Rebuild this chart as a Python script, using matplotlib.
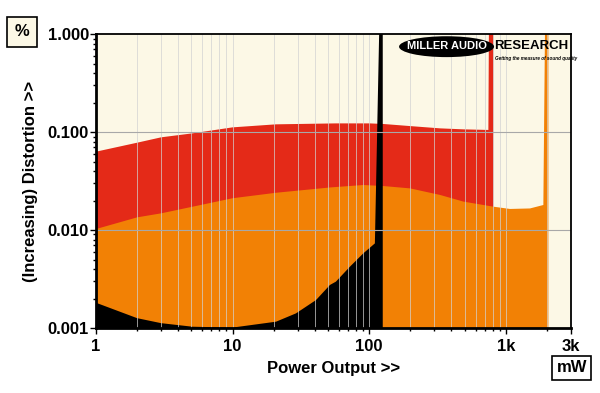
import numpy as np
import matplotlib.pyplot as plt
from matplotlib.patches import Ellipse
from matplotlib.ticker import FixedLocator, NullFormatter

plt.rcParams['font.family'] = ['Liberation Sans', 'DejaVu Sans']

# power output (mW) and THD (%)
red_p = [1, 2, 3, 5.1, 10, 20.8, 57, 101, 127, 199, 330, 489, 745, 752, 811]
red_d = [0.063, 0.0778, 0.0883, 0.097, 0.1116, 0.1198, 0.1225, 0.1225, 0.1208, 0.115,
         0.109, 0.1065, 0.105, 1.2, 1.2]

orange_p = [1, 2, 3, 5.1, 10, 20.8, 52, 90.5, 127, 199, 330, 489, 811, 1073, 1503, 1882, 1936, 2048]
orange_d = [0.01023, 0.01346, 0.0148, 0.0173, 0.0211, 0.0240, 0.0272, 0.0288, 0.0281, 0.0266,
            0.0228, 0.0195, 0.0173, 0.0164, 0.0166, 0.0180, 1.2, 1.2]

black_p = [1, 2, 3, 5.1, 10, 20.8, 29.1, 40.8, 51.6, 57, 72.3, 90.5, 110, 118.5, 125.6]
black_d = [0.00181, 0.00126, 0.00112, 0.00103, 0.00101, 0.00116, 0.00141, 0.00193, 0.00275,
           0.00297, 0.00423, 0.00578, 0.0073, 1.2, 1.2]

xticks = [1, 10, 100, 1000, 3000]
xtick_labels = ['1', '10', '100', '1k', '3k']
yticks = [0.001, 0.01, 0.1, 1.0]
ytick_labels = ['0.001', '0.010', '0.100', '1.000']

cream = '#fcf8e6'
red = '#e42a18'
orange = '#f28105'

fig = plt.figure(figsize=(6, 3.93), dpi=100)
ax = fig.add_axes([0.16, 0.1654, 0.7917, 0.748])
ax.set_facecolor(cream)
ax.set_xscale('log')
ax.set_yscale('log')
ax.set_xlim(1, 3000)
ax.set_ylim(0.001, 1.0)

base = 1e-4
ax.fill_between(red_p, base, red_d, color=red, lw=0, zorder=2)
ax.fill_between(orange_p, base, orange_d, color=orange, lw=0, zorder=3)
ax.fill_between(black_p, base, black_d, color='black', lw=0, zorder=4)

# grid on top of the fills
minor_x = [m * 10 ** e for e in range(0, 4) for m in range(2, 10) if m * 10 ** e < 3000]
for v in minor_x + [10, 100, 1000]:
    ax.axvline(v, color='#d2d2d2', lw=0.5, zorder=5)
for v in [0.01, 0.1]:
    ax.axhline(v, color='#a8a8a8', lw=0.8, zorder=5)

ax.xaxis.set_major_locator(FixedLocator(xticks))
ax.set_xticklabels(xtick_labels)
ax.xaxis.set_minor_locator(FixedLocator(minor_x))
ax.xaxis.set_minor_formatter(NullFormatter())
ax.yaxis.set_major_locator(FixedLocator(yticks))
ax.set_yticklabels(ytick_labels)
ax.yaxis.set_minor_locator(FixedLocator([m * 10.0 ** e for e in (-3, -2, -1) for m in range(2, 10)]))
ax.yaxis.set_minor_formatter(NullFormatter())

ax.tick_params(which='major', length=4, width=1, direction='out', labelsize=12)
ax.tick_params(which='minor', length=2, width=1, direction='out')
ax.tick_params(axis='x', pad=4)
ax.tick_params(axis='y', pad=1)
for lab in ax.get_xticklabels() + ax.get_yticklabels():
    lab.set_fontweight('bold')

for side in ['left', 'bottom']:
    ax.spines[side].set_linewidth(2)
for side in ['top', 'right']:
    ax.spines[side].set_linewidth(1.3)
for s in ax.spines.values():
    s.set_zorder(10)

ax.set_xlabel('Power Output >>', fontsize=12, fontweight='bold', labelpad=5)
ax.set_ylabel('(Increasing) Distortion >>', fontsize=12, fontweight='bold', labelpad=7)

# unit boxes
fig.text(0.037, 0.919, '%', fontsize=12, fontweight='bold', ha='center', va='center',
         bbox=dict(boxstyle='square,pad=0.45', fc=cream, ec='black', lw=1.2))
fig.text(0.953, 0.064, 'mW', fontsize=12, fontweight='bold', ha='center', va='center',
         bbox=dict(boxstyle='square,pad=0.25', fc='white', ec='black', lw=1.2))

# logo
ax.add_patch(Ellipse((0.738, 0.957), 0.2, 0.071, transform=ax.transAxes,
                     fc='black', ec='none', zorder=8))
ax.text(0.738, 0.958, 'MILLER AUDIO', transform=ax.transAxes, color='white',
        fontsize=8, fontweight='bold', ha='center', va='center', zorder=9)
ax.text(0.838, 0.958, 'RESEARCH', transform=ax.transAxes, color='black',
        fontsize=9.5, fontweight='bold', ha='left', va='center', zorder=9)
ax.text(0.840, 0.918, 'Getting the measure of sound quality', transform=ax.transAxes,
        color='black', fontsize=3.3, fontstyle='italic', fontweight='bold',
        ha='left', va='center', zorder=9)

fig.savefig('out.png', dpi=100, facecolor='white')
